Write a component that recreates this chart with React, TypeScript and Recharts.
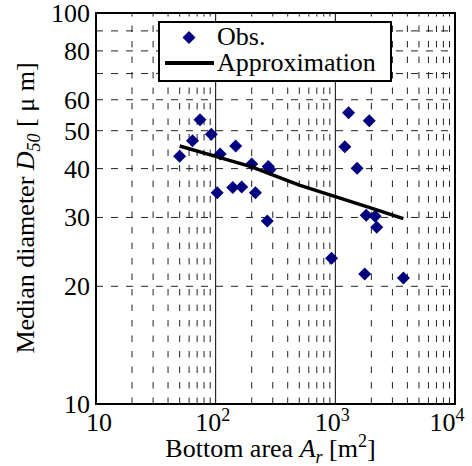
import {
  ScatterChart,
  Scatter,
  XAxis,
  YAxis,
  ReferenceLine,
  ReferenceArea,
  Legend,
} from 'recharts';

const obsArea = [50, 64, 74, 92, 103, 109, 139, 147, 165, 200, 215, 270, 275, 285, 930, 1200, 1290, 1520, 1760, 1810, 1920, 2150, 2220, 3710];
const obsD50 = [43, 47.1, 53.3, 49, 34.7, 43.6, 35.8, 45.7, 35.9, 41.1, 34.7, 29.4, 40.5, 39.8, 23.6, 45.5, 55.6, 40.1, 21.5, 30.4, 53, 30.2, 28.3, 21];

const approxArea = [50, 100, 200, 500, 1000, 2000, 3700];
const approxD50 = [45.7, 43, 40.4, 36.3, 33.9, 31.7, 29.8];

const xTicks = [10, 100, 1000, 10000];
const xTickExp = ['', '2', '3', '4'];
const yTicks = [10, 20, 30, 40, 50, 60, 80, 100];

const xMinorGrid = [20, 30, 40, 50, 60, 70, 80, 90, 200, 300, 400, 500, 600, 700, 800, 900, 2000, 3000, 4000, 5000, 6000, 7000, 8000, 9000];
const xMajorGrid = [100, 1000];
const yGrid = [20, 30, 40, 50, 60, 70, 80, 90];

const obs = obsArea.map((x, i) => ({ x, y: obsD50[i] }));
const approx = approxArea.map((x, i) => ({ x, y: approxD50[i] }));

const txt = { fontFamily: 'Liberation Serif, DejaVu Serif, serif', fontSize: 26, fill: '#000' };
const NAVY = '#000080';

const Diamond = (props: any) => {
  const { cx, cy } = props;
  const r = 6.5;
  return (
    <polygon
      points={`${cx},${cy - r} ${cx + r},${cy} ${cx},${cy + r} ${cx - r},${cy}`}
      fill={NAVY}
    />
  );
};

const XTick = (props: any) => {
  const { x, y, payload, index } = props;
  const exp = xTickExp[index] ?? '';
  const shift = index === 0 ? 3 : index === xTicks.length - 1 ? -8 : -3;
  return (
    <text x={x + shift} y={y + 19} textAnchor="middle" style={txt}>
      {exp ? '10' : String(payload.value)}
      {exp && (
        <tspan dy={-10} style={{ fontSize: 18 }}>
          {exp}
        </tspan>
      )}
    </text>
  );
};

const YTick = (props: any) => {
  const { x, y, payload } = props;
  return (
    <text x={x + 2} y={y + 9} textAnchor="end" style={txt}>
      {payload.value}
    </text>
  );
};

const YLabel = () => (
  <text x={34} y={208} transform="rotate(-90 34 208)" textAnchor="middle" style={txt}>
    Median diameter <tspan style={{ fontStyle: 'italic' }}>D</tspan>
    <tspan style={{ fontStyle: 'italic', fontSize: 18 }} dy={6}>
      50
    </tspan>
    <tspan dy={-6}> [ μ m]</tspan>
  </text>
);

const XLabel = (props: any) => {
  const { viewBox } = props;
  const cx = viewBox.x + viewBox.width / 2 - 5;
  return (
    <text x={cx} y={457} textAnchor="middle" style={txt}>
      Bottom area <tspan style={{ fontStyle: 'italic' }}>A</tspan>
      <tspan style={{ fontStyle: 'italic', fontSize: 18 }} dy={6}>
        r
      </tspan>
      <tspan dy={-6}> [m</tspan>
      <tspan style={{ fontSize: 18 }} dy={-10}>
        2
      </tspan>
      <tspan dy={10}>]</tspan>
    </text>
  );
};

const LegendBox = () => (
  <svg width={234} height={61} style={{ display: 'block' }}>
    <rect x={1} y={1} width={232} height={59} fill="#fff" stroke="#000" strokeWidth={2} />
    <polygon points="31,10 37.5,16.5 31,23 24.5,16.5" fill={NAVY} />
    <line x1={7} y1={42} x2={56} y2={42} stroke="#000" strokeWidth={4} />
    <text x={59} y={24} style={txt}>
      Obs.
    </text>
    <text x={59} y={50} style={txt}>
      Approximation
    </text>
  </svg>
);

export default function App() {
  return (
    <div style={{ position: 'absolute', left: 0, top: 0, width: 472, height: 466, background: '#fff' }}>
      <ScatterChart width={472} height={466} margin={{ top: 13, right: 17, left: 0, bottom: 0 }}>
        <XAxis
          dataKey="x"
          type="number"
          scale="log"
          domain={[10, 10000]}
          ticks={xTicks}
          allowDataOverflow
          height={62}
          axisLine={false}
          tickLine={false}
          tick={<XTick />}
          interval={0}
          label={{ content: <XLabel /> }}
        />
        <YAxis
          dataKey="y"
          type="number"
          scale="log"
          domain={[10, 100]}
          ticks={yTicks}
          allowDataOverflow
          width={96}
          axisLine={false}
          tickLine={false}
          tick={<YTick />}
          interval={0}
          label={{ content: <YLabel /> }}
        />
        {xMinorGrid.map((v) => (
          <ReferenceLine key={`xm${v}`} x={v} stroke="#222" strokeWidth={1} strokeDasharray="6.5 9" />
        ))}
        {xMajorGrid.map((v) => (
          <ReferenceLine key={`xM${v}`} x={v} stroke="#000" strokeWidth={1} />
        ))}
        {yGrid.map((v) => (
          <ReferenceLine key={`y${v}`} y={v} stroke="#222" strokeWidth={1} strokeDasharray="7 8" />
        ))}
        <ReferenceArea x1={10} x2={10000} y1={10} y2={100} fill="none" stroke="#000" strokeWidth={2} />
        <Scatter
          name="Obs."
          data={obs}
          shape={<Diamond />}
          fill={NAVY}
          isAnimationActive={false}
        />
        <Scatter
          name="Approximation"
          data={approx}
          line={{ stroke: '#000', strokeWidth: 3.5 }}
          shape={() => <g />}
          isAnimationActive={false}
        />
        <Legend
          layout="horizontal"
          verticalAlign="middle"
          align="center"
          content={<LegendBox />}
          wrapperStyle={{ position: 'absolute', left: 158, top: 21, width: 234, height: 61 }}
        />
      </ScatterChart>
    </div>
  );
}
